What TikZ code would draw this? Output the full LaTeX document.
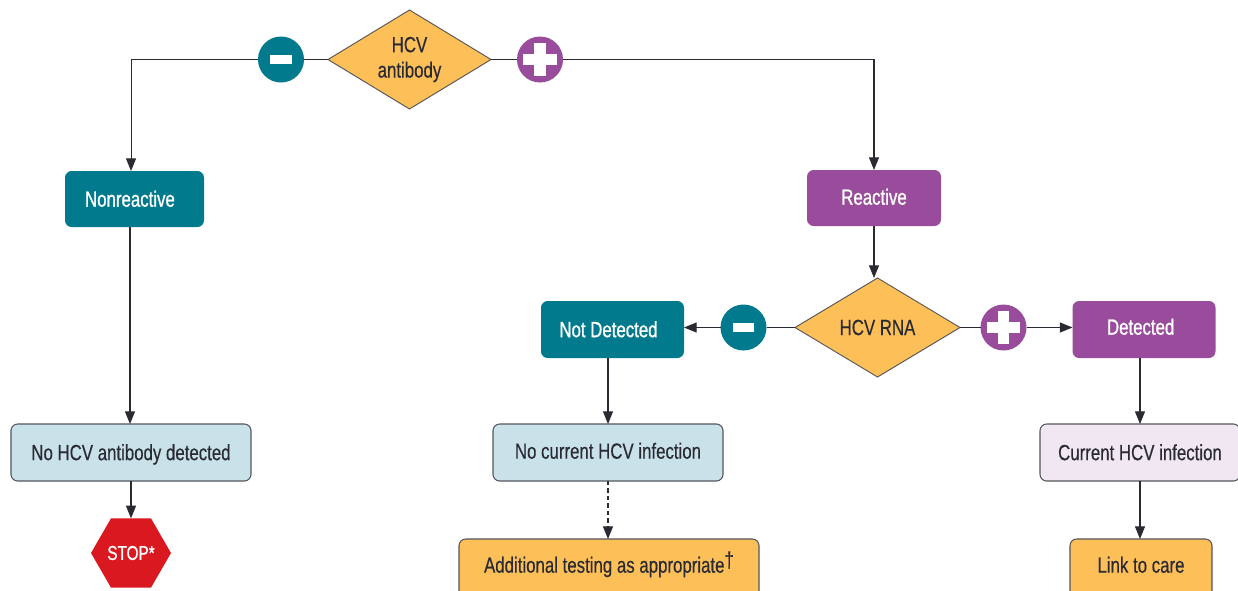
\documentclass[tikz,border=0pt]{standalone}
\usepackage{fontspec}
\setmainfont[FakeStretch=0.765,FakeBold=0.35]{Liberation Sans}
\newfontfamily\boldish[FakeStretch=0.765,FakeBold=1.0]{Liberation Sans}
\usetikzlibrary{shapes.geometric,arrows.meta}
\definecolor{tealc}{HTML}{007A8C}
\definecolor{purp}{HTML}{994C9B}
\definecolor{orng}{HTML}{FDBF57}
\definecolor{lblue}{HTML}{C9E2EA}
\definecolor{lpurp}{HTML}{F1E7F3}
\definecolor{stopred}{HTML}{D9181F}
\definecolor{ink}{HTML}{2A2A33}
\definecolor{edge}{HTML}{55555A}
\tikzset{
  x=0.75pt,y=-0.75pt,
  every node/.style={font=\fontsize{16.5}{19}\selectfont,text=ink,inner sep=0pt,outer sep=0pt},
  sized/.style 2 args={minimum width=#1*0.75pt,minimum height=#2*0.75pt},
  basebox/.style={rectangle,rounded corners=5pt,align=center,text height=15pt,text depth=3.5pt},
  solidteal/.style={basebox,fill=tealc,text=white,font=\fontsize{16.5}{19}\boldish},
  solidpurp/.style={basebox,fill=purp,text=white,font=\fontsize{16.5}{19}\boldish},
  bluebox/.style={basebox,fill=lblue,draw=edge,line width=0.8pt},
  pinkbox/.style={basebox,fill=lpurp,draw=edge,line width=0.8pt},
  orangebox/.style={basebox,fill=orng,draw=edge,line width=0.8pt,text depth=11pt},
  decision/.style={diamond,shape aspect=1.65,fill=orng,draw=edge,line width=0.7pt,align=center},
  sign/.style={circle,minimum size=46*0.75pt},
  stopsign/.style={regular polygon,regular polygon sides=6,minimum size=80*0.75pt,fill=stopred,text=white,font=\fontsize{15}{17}\boldish},
  link/.style={draw=ink,line width=0.8pt},
  arr/.style={link,-{Triangle[length=9.5pt,width=7.5pt]}},
}
\begin{document}
\begin{tikzpicture}
\useasboundingbox (0,0) rectangle (1238,590);
\clip (0,0) rectangle (1238,590);
% decisions
\node[decision,sized={163}{99}] (d1) at (409.5,59.5) {HCV\\antibody};
\node[decision,sized={165}{99}] (d2) at (877.5,327.5) {HCV RNA};
% sign circles
\node[sign,fill=tealc] (m1) at (281,59.5) {};
\node[sign,fill=purp] (p1) at (540,59.5) {};
\node[sign,fill=tealc] (m2) at (743.5,327.5) {};
\node[sign,fill=purp] (p2) at (1003.5,327.5) {};
% boxes
\node[solidteal,sized={139}{56}] (nr) at (134.5,199) {\hspace*{-6.8pt}Nonreactive};
\node[solidpurp,sized={134}{56},text depth=5pt] (re) at (874,198) {Reactive};
\node[solidteal,sized={143}{57}] (nd) at (612.5,329.5) {\hspace*{-6pt}Not Detected};
\node[solidpurp,sized={143}{57},text depth=7.3pt] (de) at (1144,329.5) {\hspace*{-5pt}Detected};
\node[bluebox,sized={240}{57}] (nh) at (131,452.5) {No HCV antibody detected};
\node[bluebox,sized={230}{57},text depth=5.7pt] (nc) at (608,452.5) {No current HCV infection};
\node[pinkbox,sized={200}{57}] (cu) at (1140,452.5) {Current HCV infection};
\node[orangebox,sized={300}{62}] (ad) at (609,570) {Additional testing as appropriate\raisebox{4pt}{†}};
\node[orangebox,sized={142}{62}] (lk) at (1141,570) {Link to care};
\node[stopsign] (st) at (131,553) {STOP*};
% sign glyphs
\fill[white] ([xshift=-7.9pt,yshift=-3.7pt]m1.center) rectangle ([xshift=7.9pt,yshift=3.7pt]m1.center);
\fill[white] ([xshift=-7.9pt,yshift=-3.7pt]m2.center) rectangle ([xshift=7.9pt,yshift=3.7pt]m2.center);
\foreach \s in {p1,p2}{
  \fill[white] ([xshift=-12.7pt,yshift=-4.4pt]\s.center) rectangle ([xshift=12.7pt,yshift=4.4pt]\s.center);
  \fill[white] ([xshift=-4.4pt,yshift=-12.7pt]\s.center) rectangle ([xshift=4.4pt,yshift=12.7pt]\s.center);
}
% connectors
\draw[link] (m1.east) -- (d1.west);
\draw[link] (d1.east) -- (p1.west);
\draw[arr] (m1.west) -| ([xshift=-2.6pt]nr.north);
\draw[arr] (p1.east) -| (re.north);
\draw[arr] (re.south) -- (re.south |- d2.north);
\draw[link] (m2.east) -- (d2.west);
\draw[link] (d2.east) -- (p2.west);
\draw[arr] (m2.west) -- (m2.west -| nd.east);
\draw[arr] (p2.east) -- (p2.east -| de.west);
\draw[arr] ([xshift=-3.375pt]nr.south) -- ([xshift=-0.75pt]nh.north);
\draw[arr] (nh.south) -- (st.north);
\draw[arr] ([xshift=-3.375pt]nd.south) -- (nc.north);
\draw[arr,dash pattern=on 3.2pt off 2.4pt] (nc.south) -- (nc.south |- ad.north);
\draw[arr] ([xshift=-3pt]de.south) -- (cu.north);
\draw[arr] (cu.south) -- (cu.south |- lk.north);
\end{tikzpicture}
\end{document}
